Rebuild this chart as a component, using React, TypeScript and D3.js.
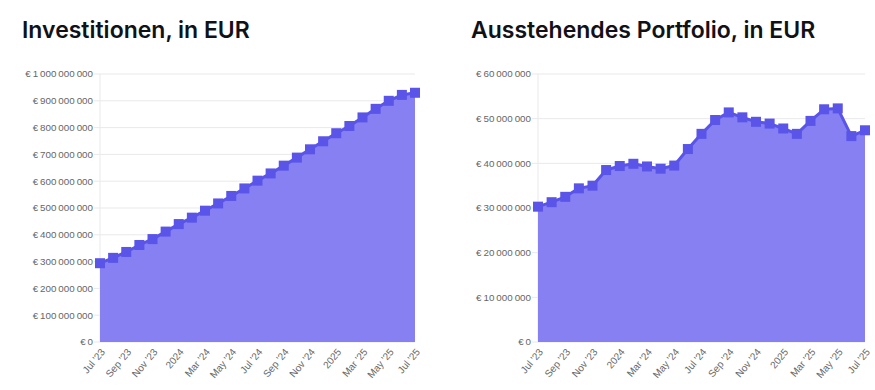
import React from "react";
import * as d3 from "d3";

const months = [
  "2023-07", "2023-08", "2023-09", "2023-10", "2023-11", "2023-12",
  "2024-01", "2024-02", "2024-03", "2024-04", "2024-05", "2024-06",
  "2024-07", "2024-08", "2024-09", "2024-10", "2024-11", "2024-12",
  "2025-01", "2025-02", "2025-03", "2025-04", "2025-05", "2025-06", "2025-07",
];

const tickLabels = [
  "Jul '23", "Sep '23", "Nov '23", "2024", "Mar '24", "May '24", "Jul '24",
  "Sep '24", "Nov '24", "2025", "Mar '25", "May '25", "Jul '25",
];

// in EUR
const investitionen = [
  294e6, 314e6, 336e6, 362e6, 384e6, 412e6, 440e6, 464e6, 490e6, 517e6,
  545e6, 573e6, 602e6, 629e6, 658e6, 688e6, 719e6, 749e6, 779e6, 806e6,
  838e6, 870e6, 900e6, 922e6, 930e6,
];

const portfolio = [
  30.3e6, 31.3e6, 32.5e6, 34.4e6, 35.0e6, 38.5e6, 39.4e6, 39.9e6, 39.3e6,
  38.8e6, 39.5e6, 43.2e6, 46.6e6, 49.7e6, 51.4e6, 50.3e6, 49.3e6, 48.9e6,
  47.8e6, 46.6e6, 49.5e6, 52.1e6, 52.3e6, 46.1e6, 47.4e6,
];

const yTicksLeft = [0, 1e8, 2e8, 3e8, 4e8, 5e8, 6e8, 7e8, 8e8, 9e8, 1e9];
const yTicksRight = [0, 1e7, 2e7, 3e7, 4e7, 5e7, 6e7];

// thin spaces as thousands separator
const fmt = (v: number) =>
  "€\u2009" + d3.format(",")(v).replace(/,/g, "\u2009");

const FILL = "#8680f2";
const STROKE = "#5a54e8";

type PanelProps = {
  title: string;
  values: number[];
  yTicks: number[];
  yMax: number;
  titleX: number;
  x0: number;
  x1: number;
};

const Panel = ({ title, values, yTicks, yMax, titleX, x0, x1 }: PanelProps) => {
  const top = 74;
  const bottom = 342;
  const x = d3.scalePoint<string>().domain(months).range([x0, x1]);
  const y = d3.scaleLinear().domain([0, yMax]).range([bottom, top]);
  const pts = values.map((v, i) => [x(months[i]) as number, y(v)] as [number, number]);
  const line = d3.line<[number, number]>();
  const area = d3
    .area<[number, number]>()
    .x((d) => d[0])
    .y0(bottom)
    .y1((d) => d[1]);

  return (
    <g>
      <text
        x={titleX}
        y={38}
        fontFamily="Inter, 'Noto Sans', sans-serif"
        fontWeight={600}
        fontSize={23}
        fill="#111118"
      >
        {title}
      </text>
      {yTicks.map((t) => (
        <g key={t}>
          <line x1={x0 - 6} x2={x1} y1={y(t)} y2={y(t)} stroke="#e9e9ec" />
          <text
            x={x0 - 7}
            y={y(t)}
            dy="0.35em"
            textAnchor="end"
            fontSize={9.8}
            fontFamily="'Liberation Sans', Arial, sans-serif"
            fill="#666"
          >
            {fmt(t)}
          </text>
        </g>
      ))}
      <line x1={x0} x2={x0} y1={top} y2={bottom} stroke="#e9e9ec" />
      <path d={area(pts) ?? ""} fill={FILL} />
      <path d={line(pts) ?? ""} fill="none" stroke={STROKE} strokeWidth={3} strokeLinejoin="round" />
      {pts.map((p, i) => (
        <rect key={i} x={p[0] - 5} y={p[1] - 5} width={10} height={10} fill={STROKE} />
      ))}
      {tickLabels.map((lab, i) => {
        const px = x(months[i * 2]) as number;
        return (
          <text
            key={lab}
            transform={`translate(${px + 3},${bottom + 8}) rotate(-50)`}
            textAnchor="end"
            dy="0.35em"
            fontSize={10}
            fontFamily="'Liberation Sans', Arial, sans-serif"
            fill="#666"
          >
            {lab}
          </text>
        );
      })}
    </g>
  );
};

export default function App() {
  return (
    <svg
      width={875}
      height={390}
      style={{ position: "absolute", left: 0, top: 0, background: "#fff" }}
    >
      <Panel
        title="Investitionen, in EUR"
        values={investitionen}
        yTicks={yTicksLeft}
        yMax={1e9}
        titleX={22}
        x0={100}
        x1={415}
      />
      <Panel
        title="Ausstehendes Portfolio, in EUR"
        values={portfolio}
        yTicks={yTicksRight}
        yMax={6e7}
        titleX={471}
        x0={538}
        x1={865}
      />
    </svg>
  );
}
